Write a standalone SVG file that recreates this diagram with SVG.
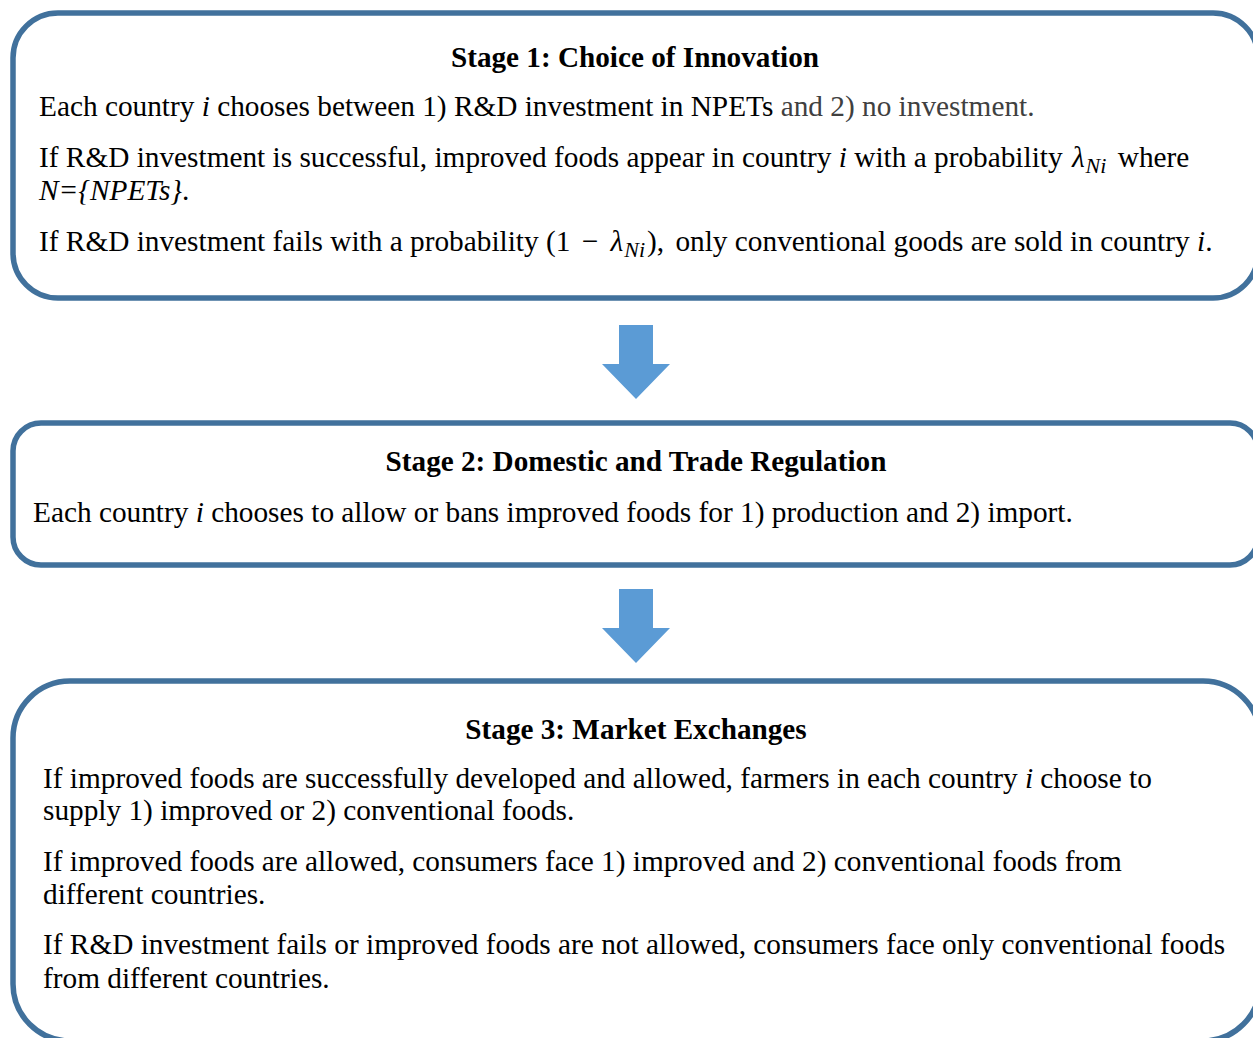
<svg xmlns="http://www.w3.org/2000/svg" width="1253" height="1038" viewBox="0 0 1253 1038">
<style>
.box{fill:#fff;stroke:#41719C;stroke-width:5.5}
.t{font-family:"Liberation Serif","Times New Roman",serif;font-size:29.3px;fill:#000}
.h{font-family:"Liberation Serif","Times New Roman",serif;font-size:29.2px;font-weight:bold;fill:#000;text-anchor:middle}
.i{font-style:italic}
.g{fill:#404040}
.sub{font-size:22px;font-style:italic}
.arrow{fill:#5B9BD5}
</style>
<rect width="1253" height="1038" fill="#fff"/>
<g id="stage1">
<rect class="box" x="13" y="13" width="1245" height="285" rx="45"/>
<text class="h" x="635" y="67">Stage 1: Choice of Innovation</text>
<text class="t" x="39" y="116">Each country <tspan class="i">i</tspan> chooses between 1) R&amp;D investment in NPETs <tspan class="g">and 2) no investment.</tspan></text>
<text class="t" x="39" y="167">If R&amp;D investment is successful, improved foods appear in country <tspan class="i">i</tspan> with a probability <tspan class="i" dx="2">λ</tspan><tspan class="sub" dy="6" dx="1">Ni</tspan><tspan dy="-6" dx="4"> where</tspan></text>
<text class="t" x="39" y="200"><tspan class="i">N={NPETs}</tspan>.</text>
<text class="t" x="39" y="251">If R&amp;D investment fails with a probability (1 <tspan dx="4">−</tspan> <tspan class="i" dx="5">λ</tspan><tspan class="sub" dy="6" dx="1">Ni</tspan><tspan dy="-6" dx="2">),</tspan><tspan dx="4"> only conventional goods are sold in country </tspan><tspan class="i">i</tspan>.</text>
</g>
<g id="stage2">
<rect class="box" x="13" y="423" width="1245" height="142" rx="28"/>
<text class="h" x="636" y="471">Stage 2: Domestic and Trade Regulation</text>
<text class="t" x="33" y="522">Each country <tspan class="i">i</tspan> chooses to allow or bans improved foods for 1) production and 2) import.</text>
</g>
<g id="stage3">
<rect class="box" x="13" y="681" width="1247" height="360" rx="57"/>
<text class="h" x="636" y="739">Stage 3: Market Exchanges</text>
<text class="t" x="43" y="788">If improved foods are successfully developed and allowed, farmers in each country <tspan class="i">i</tspan> choose to</text>
<text class="t" x="43" y="820">supply 1) improved or 2) conventional foods.</text>
<text class="t" x="43" y="871">If improved foods are allowed, consumers face 1) improved and 2) conventional foods from</text>
<text class="t" x="43" y="904">different countries.</text>
<text class="t" x="43" y="954">If R&amp;D investment fails or improved foods are not allowed, consumers face only conventional foods</text>
<text class="t" x="43" y="988">from different countries.</text>
</g>
<g id="connectors">
<polygon class="arrow" points="619,325 653,325 653,364 670,364 636,399 602,364 619,364"/>
<polygon class="arrow" points="619,589 653,589 653,628 670,628 636,663 602,628 619,628"/>
</g>
</svg>
